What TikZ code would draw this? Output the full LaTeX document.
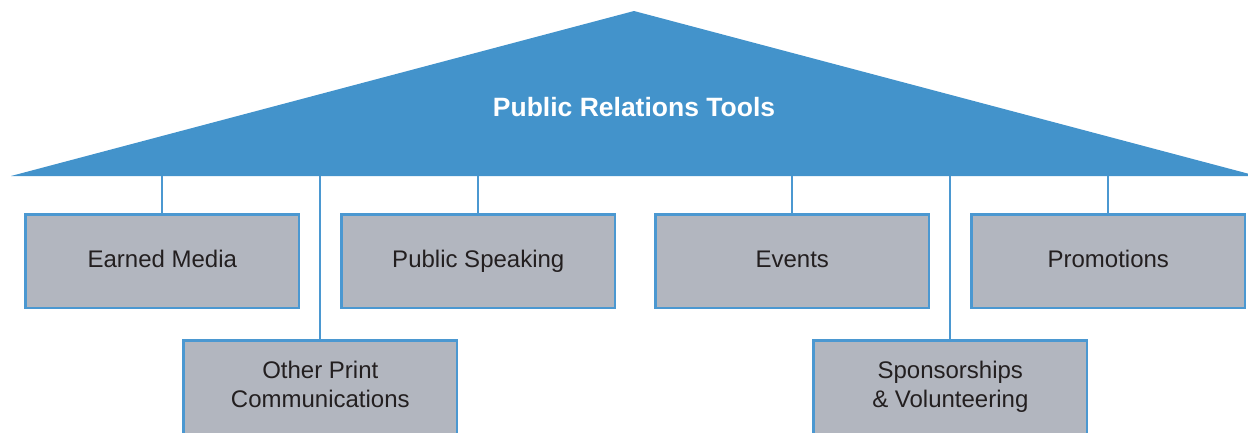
\documentclass[tikz,border=0pt]{standalone}
\usepackage{fontspec}
\setmainfont{Liberation Sans}
\definecolor{roofblue}{HTML}{4393CB}
\definecolor{lineblue}{HTML}{4B98D1}
\definecolor{boxgray}{HTML}{B2B6BF}
\definecolor{txtdark}{HTML}{231F20}
\tikzset{
  toolbox/.style={draw=lineblue, line width=2.6pt, fill=boxgray, minimum width=273.4pt, minimum height=93.4pt, inner sep=0pt, align=center, text=txtdark, font=\fontsize{24}{29}\selectfont, anchor=north west},
  link/.style={draw=lineblue, line width=2pt},
}
\begin{document}
\begin{tikzpicture}[x=1pt,y=-1pt]
\useasboundingbox (0,0) rectangle (1248,432);
\clip (0,0) rectangle (1248,432);
\fill[roofblue] (11,176) -- (634,11) -- (1257,176) -- cycle;
\coordinate (base) at (0,176);
\node[text=white, font=\bfseries\fontsize{26.5}{30}\selectfont] (title) at (634,107) {Public Relations Tools};
\node[toolbox] (em) at (24.3,213.3) {\strut Earned Media};
\node[toolbox] (ps) at (340.3,213.3) {\strut Public Speaking};
\node[toolbox] (ev) at (654.3,213.3) {\strut Events};
\node[toolbox] (pr) at (970.3,213.3) {\strut Promotions};
\node[toolbox] (op) at (182.3,339.3) {\strut Other Print\\\strut Communications};
\node[toolbox] (sv) at (812.3,339.3) {\strut Sponsorships\\\strut \& Volunteering};
\foreach \b in {em,ps,ev,pr,op,sv}
  \draw[link] (\b.north) -- (\b.north |- base);
\end{tikzpicture}
\end{document}
